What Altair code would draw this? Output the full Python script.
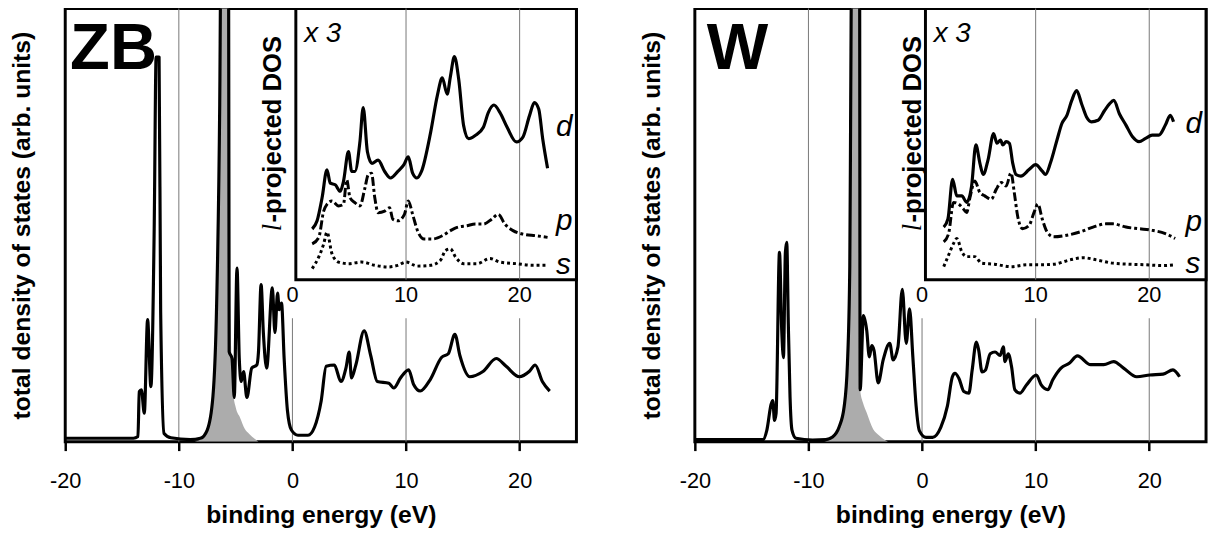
import altair as alt
import pandas as pd

FONT = "Liberation Sans"
X_TICKS = [-20, -10, 0, 10, 20]
INSET_TICKS = ["0", "10", "20"]
INSET_TICK_X = [0, 10, 20]

# ---------------- ZB panel ----------------
zb_total = [(-20, 0.8), (-14.0, 0.8), (-13.6, 1.2), (-13.48, 11.6), (-13.3, 12.0), (-13.04, 6.6),
            (-12.75, 28.2), (-12.46, 12.7), (-12.17, 49), (-12.0, 88.8), (-11.74, 88.8), (-11.6, 30),
            (-11.3, 1.9), (-10.7, 0.9), (-9.0, 0.5), (-8.1, 0.8), (-7.5, 2.7), (-7.0, 10.4),
            (-6.67, 32), (-6.4, 78), (-6.3, 110), (-5.62, 110), (-5.57, 20.8), (-5.32, 19.2),
            (-5.12, 10.2), (-4.88, 40.1), (-4.68, 19.2), (-4.51, 13.9), (-4.30, 16.2), (-4.01, 10.2),
            (-3.58, 17), (-3.14, 17.7), (-2.99, 20.7), (-2.76, 36.3), (-2.56, 25.2), (-2.27, 17),
            (-1.77, 35.5), (-1.54, 25.2), (-1.31, 34.3), (-1.16, 30.5), (-0.96, 32), (-0.73, 19.2),
            (-0.44, 7.2), (-0.09, 2.7), (0.49, 1.5), (1.37, 1.5), (1.95, 3.4), (2.53, 9.4),
            (2.97, 17.4), (3.69, 17.7), (4.27, 13.9), (4.71, 17), (5.0, 20.7), (5.2, 14.7),
            (5.58, 17.7), (6.31, 25.6), (6.89, 19.9), (7.47, 13.9), (8.49, 13.5), (8.92, 12.4),
            (9.51, 14.7), (10.23, 16.6), (10.67, 13.2), (11.25, 11.7), (12.12, 14.3), (13.14, 19.5),
            (13.72, 20.3), (14.3, 24.8), (14.74, 19.9), (15.61, 15), (16.77, 16.2), (17.94, 19.2),
            (18.81, 17.4), (19.97, 15), (20.84, 16.2), (21.37, 17.7), (22.0, 13.9), (22.65, 11.7)]

zb_gray = [(-8.6, 0), (-8.0, 0.6), (-7.5, 2.4), (-7.0, 9.5), (-6.67, 30), (-6.4, 75), (-6.3, 110),
           (-5.65, 110), (-5.55, 45), (-5.4, 22), (-5.2, 11), (-5.0, 8), (-4.6, 5.5), (-4.2, 3),
           (-3.8, 1.8), (-3.3, 0.6), (-3.0, 0)]

zb_d = [(1.74, 18.7), (2.17, 21.7), (2.61, 30.2), (3.04, 40.5), (3.33, 35.6), (3.77, 35), (4.2, 32.6),
        (4.49, 36.2), (4.93, 47.2), (5.22, 39.9), (5.5, 39.9), (5.94, 50.8), (6.23, 63.5), (6.6, 47.2),
        (7.0, 42.9), (7.54, 44.1), (8.12, 39.9), (8.64, 37.5), (9.28, 39.9), (9.8, 42.3), (10.2, 45.3),
        (10.58, 39.3), (10.96, 37.5), (11.36, 39.9), (12.17, 54.4), (12.75, 67.8), (13.19, 74.4),
        (13.62, 68.4), (13.91, 75), (14.26, 82.3), (14.64, 73.8), (15.07, 56.8), (15.51, 52),
        (16.09, 53.2), (16.81, 56.2), (17.25, 61.7), (17.74, 64.4), (18.26, 61.7), (18.9, 56.2),
        (19.71, 50.8), (20.29, 52.6), (20.87, 60.5), (21.3, 65.3), (21.68, 62.9), (22.03, 52),
        (22.46, 41.1)]
zb_p = [(1.74, 13.2), (2.32, 15.6), (2.75, 25.3), (3.04, 27.8), (3.48, 29), (4.06, 27.2), (4.49, 27.8),
        (4.78, 36.8), (5.07, 30.2), (5.5, 28.4), (5.94, 27.2), (6.38, 33.8), (6.67, 38.7), (6.96, 39.3),
        (7.25, 30.2), (7.54, 24.7), (8.12, 25.3), (8.55, 26.5), (8.84, 22.3), (9.28, 21.7), (9.86, 24.1),
        (10.2, 29), (10.58, 24.1), (11.01, 18.1), (11.59, 15), (12.32, 15), (13.19, 16.2), (13.91, 18.1),
        (14.49, 19.3), (15.36, 19.9), (16.09, 20.5), (16.81, 20.5), (17.54, 22.3), (18.12, 24.1),
        (18.7, 20.5), (19.42, 18.1), (20.29, 16.8), (21.45, 16.2), (22.46, 15.6)]
zb_s = [(1.74, 4.1), (2.32, 8.4), (2.75, 13.2), (3.04, 17.5), (3.48, 9.6), (4.06, 6.5), (4.93, 5.9),
        (6.09, 6.5), (7.25, 5.3), (8.41, 4.7), (9.28, 5.3), (10.0, 6.5), (11.01, 5), (12.17, 5.3),
        (13.04, 7.2), (13.48, 10.8), (13.91, 11.4), (14.35, 8.4), (15.07, 5.9), (16.23, 5.9),
        (17.39, 7.8), (18.26, 6.5), (19.71, 5.9), (21.16, 5.3), (22.46, 5.3)]

# ---------------- W panel ----------------
w_total = [(-20, 0.5), (-14.0, 0.5), (-13.66, 2.7), (-13.28, 8.7), (-13.14, 9.5), (-12.99, 4.9),
           (-12.85, 6.5), (-12.55, 43.7), (-12.35, 25.5), (-12.2, 19.4), (-12.03, 43.7), (-11.91, 46),
           (-11.77, 27), (-11.62, 10.3), (-11.45, 2.7), (-11.1, 0.8), (-9.63, 0.4), (-8.47, 0.5),
           (-7.88, 1.1), (-7.3, 3.4), (-6.86, 8), (-6.57, 17.9), (-6.36, 40.7), (-6.28, 78.7),
           (-6.2, 110), (-5.5, 110), (-5.45, 12), (-5.16, 29.1), (-4.87, 25.7), (-4.64, 19.6),
           (-4.43, 22.2), (-4.23, 21.1), (-3.86, 13.6), (-3.42, 18.9), (-2.84, 22.7), (-2.55, 18.9),
           (-2.12, 21.9), (-1.74, 35.2), (-1.39, 22.7), (-1.1, 30.7), (-0.81, 19.6), (-0.52, 8.2),
           (-0.23, 2.5), (0.35, 1.0), (0.93, 1.0), (1.65, 3.3), (2.23, 8.2), (2.67, 15.0), (2.9, 15.8),
           (3.25, 14.6), (3.68, 11.6), (4.12, 11.2), (4.41, 16.5), (4.78, 23), (4.99, 21.1),
           (5.28, 16.1), (5.57, 16.5), (6.0, 20.3), (6.43, 20.7), (6.87, 19.9), (7.16, 21.9),
           (7.3, 18.5), (7.59, 20.3), (7.88, 17.3), (8.17, 12), (8.61, 11.2), (9.19, 13.1),
           (10.06, 15.4), (10.49, 13.1), (11.07, 12), (11.51, 14.3), (12.23, 17), (12.96, 18.1),
           (13.68, 19.8), (14.84, 17.8), (16.0, 17.8), (16.87, 18.5), (17.74, 17), (18.9, 15),
           (20.06, 15.4), (21.22, 15.6), (22.09, 16.6), (22.67, 15.0)]

w_gray = [(-8.6, 0), (-8.0, 0.6), (-7.3, 3), (-6.86, 7.5), (-6.57, 17), (-6.36, 40), (-6.28, 78),
          (-6.2, 110), (-5.5, 110), (-5.45, 12), (-5.2, 9), (-4.87, 6.7), (-4.3, 2.9), (-3.8, 1.5),
          (-3.4, 0.6), (-3.0, 0)]

w_d = [(1.91, 19.4), (2.28, 22.4), (2.69, 37), (3.06, 30.9), (3.5, 30.9), (3.93, 28.5), (4.36, 34.5),
       (4.74, 49.7), (5.09, 43), (5.38, 38.8), (5.81, 44.2), (6.3, 53.9), (6.59, 50.3), (6.91, 51.5),
       (7.11, 49.7), (7.4, 50.9), (7.69, 50.3), (7.98, 43), (8.27, 38.8), (8.7, 38.2), (9.42, 40.6),
       (10.0, 42.4), (10.58, 40), (10.87, 38.8), (11.3, 43), (11.88, 51.5), (12.31, 57.6),
       (12.75, 60.6), (13.18, 66.1), (13.61, 69.7), (14.05, 64.8), (14.48, 60), (14.91, 58.2),
       (15.49, 58.8), (16.07, 62.4), (16.5, 64.8), (16.88, 66.1), (17.37, 61.2), (17.95, 57),
       (18.53, 52.7), (19.1, 50.9), (19.68, 52.1), (20.26, 53.3), (20.84, 53.3), (21.42, 57),
       (21.85, 60.6), (22.14, 58.2)]
w_p = [(1.91, 13.9), (2.34, 17), (2.77, 28.5), (3.21, 27.9), (3.64, 26.1), (3.93, 24.8), (4.22, 30.3),
       (4.65, 36.4), (5.09, 32.1), (5.52, 30.9), (6.1, 29.7), (6.53, 33.3), (6.97, 35.8), (7.4, 34.5),
       (7.83, 39.4), (8.12, 32.1), (8.41, 23.6), (8.84, 18.8), (9.42, 20), (9.86, 24.8), (10.2, 27.9),
       (10.58, 22.4), (11.01, 17.6), (11.59, 15.8), (12.75, 16.4), (13.9, 17.6), (15.06, 19.4),
       (16.21, 20.6), (16.79, 20.6), (17.95, 19.4), (19.1, 18.8), (20.26, 18.2), (21.42, 17),
       (22.28, 15.2)]
w_s = [(1.91, 4.8), (2.34, 9.1), (2.77, 13.3), (3.06, 15.2), (3.5, 10.3), (3.93, 8.5), (4.65, 8.5),
       (5.23, 6.1), (6.39, 5.7), (7.83, 4.8), (9.28, 5.5), (10.43, 5.5), (11.59, 5.7), (13.03, 7.3),
       (14.19, 8.1), (15.35, 7.3), (16.79, 6.1), (18.24, 5.7), (19.68, 5.5), (21.13, 5.2), (22.28, 5.5)]

# main grid lines: x, bottom, top (main units)
grid_lines = [(-10, 0, 100), (0, 0, 28.5), (10, 0, 28.5), (20, 0, 28.5)]
# inset: x-range and grid lines (inset units 0..100)
inset_box = (0.3, 25, 0, 100)
inset_grid = [10, 20]
INSET_B = 37.4   # inset bottom, in main units
INSET_K = 0.626  # main units per inset unit

XDOM = [-20, 25]
YDOM = [0, 100]


def df(pairs, cols=("x", "y")):
    return pd.DataFrame(pairs, columns=list(cols))


def X(field="x"):
    return alt.X(f"{field}:Q", scale=alt.Scale(domain=XDOM, nice=False, zero=False),
                 title="binding energy (eV)",
                 axis=alt.Axis(values=X_TICKS, labelExpr="'' + datum.value", labelFontSize=22,
                               labelFont=FONT, labelColor="black", tickSize=9, tickWidth=2.5,
                               tickColor="black", labelPadding=20, titleFontSize=25,
                               titleFont=FONT, titleFontWeight="bold", titleColor="black",
                               titlePadding=12, domain=False, grid=False, labelFlush=False))


def Y(field="y"):
    return alt.Y(f"{field}:Q", scale=alt.Scale(domain=YDOM, nice=False, zero=False),
                 title="total density of states (arb. units)",
                 axis=alt.Axis(labels=False, ticks=False, domain=False, grid=False,
                               titleFontSize=25, titleFont=FONT, titleFontWeight="bold",
                               titleColor="black", titlePadding=31))


def inset_line(pairs, dash, width):
    d = df(pairs, ("x", "u"))
    m = alt.Chart(d).transform_calculate(y=f"{INSET_B} + {INSET_K} * datum.u")
    kw = dict(color="black", strokeWidth=width, strokeJoin="round", interpolate="monotone")
    if dash:
        kw["strokeDash"] = dash
    return m.mark_line(**kw).encode(x=X(), y=Y())


def text_layer(rows, cols, inset, **mk):
    d = pd.DataFrame(rows, columns=cols)
    c = alt.Chart(d)
    if inset:
        c = c.transform_calculate(y=f"{INSET_B} + {INSET_K} * datum.u")
    return c.mark_text(**mk).encode(x=X(), y=Y(), text="label:N")


def panel(total, gray, d_, p_, s_, name, name_x, name_y, lab_x, labels_u):
    grid = alt.Chart(df(grid_lines, ("x", "y", "y2"))).mark_rule(color="#777", strokeWidth=1).encode(
        x=X(), y=Y(), y2="y2:Q")
    area = alt.Chart(df(gray)).mark_area(color="#acacac", clip=True,
                                         interpolate="monotone").encode(x=X(), y=Y())
    line = alt.Chart(df(total)).mark_line(color="black", strokeWidth=3.2, clip=True,
                                          strokeJoin="round", interpolate="monotone").encode(
        x=X(), y=Y())
    box = alt.Chart(pd.DataFrame([inset_box], columns=["x", "x2", "u", "u2"])).transform_calculate(
        y=f"{INSET_B} + {INSET_K} * datum.u", y2=f"{INSET_B} + {INSET_K} * datum.u2"
    ).mark_rect(fill="white", stroke="black", strokeWidth=3).encode(
        x=X(), x2="x2:Q", y=Y(), y2="y2:Q")
    igrid = alt.Chart(pd.DataFrame({"x": inset_grid, "u": 0, "u2": 100})).transform_calculate(
        y=f"{INSET_B} + {INSET_K} * datum.u", y2=f"{INSET_B} + {INSET_K} * datum.u2"
    ).mark_rule(color="#777", strokeWidth=1).encode(x=X(), y=Y(), y2="y2:Q")
    dl = inset_line(d_, None, 3.2)
    pl = inset_line(p_, [9, 3, 3, 3], 3)
    sl = inset_line(s_, [3, 3], 3)
    big = text_layer([(name_x, name_y, name)], ["x", "y", "label"], False, font=FONT,
                     fontSize=66, fontWeight="bold", align="left", baseline="top",
                     color="black")
    itick = text_layer([(x, 33.8, t) for x, t in zip(INSET_TICK_X, INSET_TICKS)],
                       ["x", "y", "label"], False, font=FONT, fontSize=22, align="center",
                       baseline="middle", color="black")
    x3 = text_layer([(1.04, 87.7, "x 3")], ["x", "u", "label"], True, font=FONT, fontSize=28,
                    fontStyle="italic", align="left", baseline="alphabetic", color="black")
    spd = text_layer([(23.2, u, t) for t, u in labels_u], ["x", "u", "label"], True, font=FONT,
                     fontSize=30, fontStyle="italic", align="left", baseline="alphabetic",
                     color="black")
    lsym = text_layer([(lab_x, 48.6, "l")], ["x", "y", "label"], False, font="Liberation Serif",
                      fontSize=27, fontStyle="italic", angle=270, align="left",
                      baseline="middle", color="black")
    ltxt = text_layer([(lab_x, 50.6, "-projected DOS")], ["x", "y", "label"], False, font=FONT,
                      fontSize=26, fontWeight="bold", angle=270, align="left",
                      baseline="middle", color="black")
    return alt.layer(grid, area, line, box, igrid, dl, pl, sl, big, itick, x3, spd, lsym,
                     ltxt).properties(width=518, height=439)


left = panel(zb_total, zb_gray, zb_d, zb_p, zb_s, "ZB", -19.57, 97.95, -1.74,
             [("d", 53), ("p", 18.2), ("s", 2.2)])
right = panel(w_total, w_gray, w_d, w_p, w_s, "W", -18.96, 97.95, -0.8,
              [("d", 54), ("p", 18), ("s", 2.5)])

chart = alt.hconcat(left, right, spacing=59).properties(
    padding={"left": 0, "top": -6, "right": 0, "bottom": 0},
    background="white",
).configure_view(stroke="black", strokeWidth=3)

chart.save("out.html", embed_options={"renderer": "svg", "actions": False})
